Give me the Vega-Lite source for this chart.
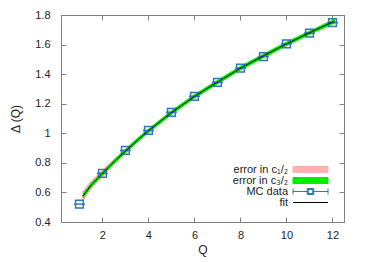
{
  "$schema": "https://vega.github.io/schema/vega-lite/v6.json",
  "width": 283,
  "height": 207,
  "autosize": {"type": "none"},
  "padding": {"left": 61, "top": 15, "right": 30, "bottom": 40},
  "config": {
    "font": "Liberation Sans",
    "view": {"stroke": "#808080", "strokeWidth": 1},
    "axis": {
      "grid": false,
      "domainColor": "#808080",
      "tickColor": "#808080",
      "tickSize": -5,
      "labelFont": "Liberation Sans",
      "labelFontSize": 11,
      "labelColor": "#222222",
      "titleFont": "Liberation Sans",
      "titleFontSize": 12,
      "titleFontWeight": "normal",
      "titleColor": "#222222"
    },
    "legend": {
      "labelFont": "Liberation Sans",
      "labelFontSize": 11,
      "labelColor": "#222222"
    }
  },
  "datasets": {
    "fit": [
      {"Q": 1.15, "fit": 0.575, "r_lo": 0.546, "r_hi": 0.605, "g_lo": 0.559, "g_hi": 0.591},
      {"Q": 1.5, "fit": 0.648, "r_lo": 0.623, "r_hi": 0.673, "g_lo": 0.632, "g_hi": 0.664},
      {"Q": 2, "fit": 0.728, "r_lo": 0.707, "r_hi": 0.749, "g_lo": 0.712, "g_hi": 0.744},
      {"Q": 2.5, "fit": 0.806, "r_lo": 0.79, "r_hi": 0.822, "g_lo": 0.79, "g_hi": 0.822},
      {"Q": 3, "fit": 0.88, "r_lo": 0.867, "r_hi": 0.893, "g_lo": 0.864, "g_hi": 0.896},
      {"Q": 3.5, "fit": 0.95, "r_lo": 0.94, "r_hi": 0.96, "g_lo": 0.934, "g_hi": 0.966},
      {"Q": 4, "fit": 1.017, "r_lo": 1.009, "r_hi": 1.025, "g_lo": 1.001, "g_hi": 1.033},
      {"Q": 5, "fit": 1.14, "r_lo": 1.134, "r_hi": 1.146, "g_lo": 1.124, "g_hi": 1.156},
      {"Q": 6, "fit": 1.249, "r_lo": 1.244, "r_hi": 1.254, "g_lo": 1.233, "g_hi": 1.265},
      {"Q": 7, "fit": 1.346, "r_lo": 1.341, "r_hi": 1.351, "g_lo": 1.33, "g_hi": 1.362},
      {"Q": 8, "fit": 1.44, "r_lo": 1.435, "r_hi": 1.445, "g_lo": 1.424, "g_hi": 1.456},
      {"Q": 9, "fit": 1.524, "r_lo": 1.519, "r_hi": 1.529, "g_lo": 1.508, "g_hi": 1.54},
      {"Q": 10, "fit": 1.604, "r_lo": 1.599, "r_hi": 1.609, "g_lo": 1.588, "g_hi": 1.62},
      {"Q": 11, "fit": 1.68, "r_lo": 1.675, "r_hi": 1.685, "g_lo": 1.664, "g_hi": 1.696},
      {"Q": 12, "fit": 1.752, "r_lo": 1.747, "r_hi": 1.757, "g_lo": 1.736, "g_hi": 1.768},
      {"Q": 12.1, "fit": 1.759, "r_lo": 1.754, "r_hi": 1.764, "g_lo": 1.743, "g_hi": 1.775}
    ],
    "mc": [
      {"Q": 1, "D": 0.521, "Qlo": 0.76, "Qhi": 1.24},
      {"Q": 2, "D": 0.729, "Qlo": 1.76, "Qhi": 2.24},
      {"Q": 3, "D": 0.884, "Qlo": 2.76, "Qhi": 3.24},
      {"Q": 4, "D": 1.019, "Qlo": 3.76, "Qhi": 4.24},
      {"Q": 5, "D": 1.142, "Qlo": 4.76, "Qhi": 5.24},
      {"Q": 6, "D": 1.25, "Qlo": 5.76, "Qhi": 6.24},
      {"Q": 7, "D": 1.344, "Qlo": 6.76, "Qhi": 7.24},
      {"Q": 8, "D": 1.441, "Qlo": 7.76, "Qhi": 8.24},
      {"Q": 9, "D": 1.519, "Qlo": 8.76, "Qhi": 9.24},
      {"Q": 10, "D": 1.605, "Qlo": 9.76, "Qhi": 10.24},
      {"Q": 11, "D": 1.677, "Qlo": 10.76, "Qhi": 11.24},
      {"Q": 12, "D": 1.748, "Qlo": 11.76, "Qhi": 12.24}
    ]
  },
  "layer": [
    {
      "data": {"name": "mc"},
      "mark": {"type": "point", "opacity": 0},
      "encoding": {
        "x": {"field": "Q", "type": "quantitative",
              "scale": {"domain": [0.2, 12.5], "nice": false, "zero": false},
              "axis": {"orient": "top", "values": [2, 4, 6, 8, 10, 12], "tickCount": 20, "labels": false, "title": null}},
        "y": {"field": "D", "type": "quantitative",
              "scale": {"domain": [0.4, 1.8], "nice": false, "zero": false},
              "axis": {"orient": "right", "values": [0.4, 0.6, 0.8, 1, 1.2, 1.4, 1.6, 1.8], "tickCount": 20, "labels": false, "title": null}}
      }
    },
    {
      "layer": [
        {
          "data": {"name": "fit"},
          "mark": {"type": "area", "stroke": "#ff5050", "strokeWidth": 0.8, "strokeDash": [1, 1]},
          "encoding": {
            "x": {"field": "Q", "type": "quantitative", "title": "Q",
                  "scale": {"domain": [0.2, 12.5], "nice": false, "zero": false},
                  "axis": {"orient": "bottom", "values": [2, 4, 6, 8, 10, 12], "tickCount": 20, "format": "d", "labelPadding": 12, "titlePadding": 4, "labelOverlap": false}},
            "y": {"field": "r_lo", "type": "quantitative", "title": "Δ (Q)",
                  "scale": {"domain": [0.4, 1.8], "nice": false, "zero": false},
                  "axis": {"orient": "left", "values": [0.4, 0.6, 0.8, 1, 1.2, 1.4, 1.6, 1.8], "tickCount": 20, "labelExpr": "datum.value == 1 ? '1' : format(datum.value, '.1f')", "labelPadding": 16, "titlePadding": 12, "labelOverlap": false, "labelFlush": false}},
            "y2": {"field": "r_hi"},
            "color": {"datum": "error in c₁/₂"}
          }
        },
        {
          "data": {"name": "fit"},
          "mark": {"type": "area"},
          "encoding": {
            "x": {"field": "Q", "type": "quantitative"},
            "y": {"field": "g_lo", "type": "quantitative"},
            "y2": {"field": "g_hi"},
            "color": {"datum": "error in c₃/₂"}
          }
        },
        {
          "data": {"name": "mc"},
          "mark": {"type": "rule", "strokeWidth": 1.5},
          "encoding": {
            "x": {"field": "Qlo", "type": "quantitative"},
            "x2": {"field": "Qhi"},
            "y": {"field": "D", "type": "quantitative"},
            "color": {"datum": "MC data"}
          }
        },
        {
          "data": {"name": "mc"},
          "mark": {"type": "point", "shape": "square", "filled": false, "size": 60, "strokeWidth": 1.5, "opacity": 1},
          "encoding": {
            "x": {"field": "Q", "type": "quantitative"},
            "y": {"field": "D", "type": "quantitative"},
            "color": {"datum": "MC data"}
          }
        },
        {
          "data": {"name": "fit"},
          "mark": {"type": "line", "strokeWidth": 1},
          "encoding": {
            "x": {"field": "Q", "type": "quantitative"},
            "y": {"field": "fit", "type": "quantitative"},
            "color": {
              "datum": "fit",
              "scale": {
                "domain": ["error in c₁/₂", "error in c₃/₂", "MC data", "fit"],
                "range": ["#ffb0b0", "#00ee00", "#2a7ab8", "#000000"]
              },
              "legend": {
                "title": null,
                "orient": "bottom-right",
                "offset": 14,
                "padding": 0,
                "labelAlign": "right",
                "labelOffset": -28,
                "symbolSize": 100,
                "rowPadding": -1,
                "gridAlign": "all",
                "encode": {
                  "symbols": {
                    "update": {
                      "shape": {"signal": "datum.value === 'MC data' ? 'M-3.5,0H-0.65M0.65,0H3.5M-3.5,-0.6V0.6M3.5,-0.6V0.6M-0.65,-0.6H0.65V0.6H-0.65ZM-0.45,-0.4V0.4H0.45V-0.4Z' : datum.value === 'fit' ? 'M-3.5,-0.6M-3.5,0H3.5M3.5,0.6' : 'M-3.5,-0.6H3.5V0.6H-3.5Z'"},
                      "fill": {"signal": "datum.value === 'error in c₁/₂' ? '#ffb0b0' : datum.value === 'error in c₃/₂' ? '#00ee00' : 'transparent'"},
                      "stroke": {"signal": "datum.value === 'error in c₁/₂' ? '#ff6060' : datum.value === 'error in c₃/₂' ? '#00ee00' : datum.value === 'MC data' ? '#2a7ab8' : '#000000'"},
                      "strokeWidth": {"value": 1},
                      "opacity": {"value": 1}
                    }
                  }
                }
              }
            }
          }
        }
      ]
    }
  ],
  "resolve": {"scale": {"x": "independent", "y": "independent"}}
}
